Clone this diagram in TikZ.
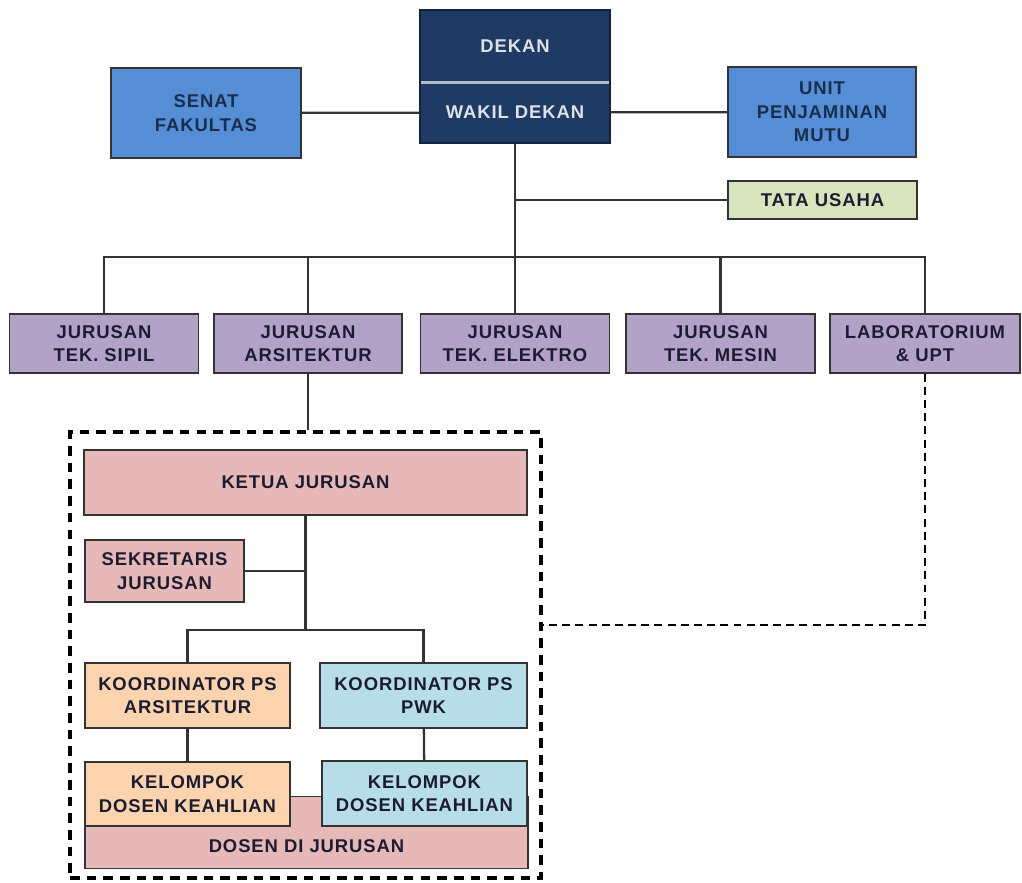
\documentclass[tikz,border=0pt]{standalone}
\usepackage{fontspec}
\setmainfont{Liberation Sans}[LetterSpace=5]
\usepackage{tikz}
\usetikzlibrary{calc}
\definecolor{navy}{HTML}{1F3A63}
\definecolor{senatblue}{HTML}{558ED5}
\definecolor{tatagreen}{HTML}{D7E4BD}
\definecolor{jurpurple}{HTML}{B3A2C7}
\definecolor{ketpink}{HTML}{E6B9B8}
\definecolor{peach}{HTML}{FBD3AE}
\definecolor{paleblue}{HTML}{B7DEE8}
\definecolor{txtdark}{HTML}{1C1C30}
\definecolor{linegray}{HTML}{333333}

\begin{document}
\begin{tikzpicture}[x=0.02cm,y=-0.02cm,
  box/.style 2 args={draw=linegray,line width=0.8pt,minimum width=#1*0.02cm,minimum height=#2*0.02cm,
    inner sep=0pt,align=center,text=txtdark,font=\bfseries\fontsize{10.5}{13.3}\selectfont},
  conn/.style={draw=linegray,line width=1.3pt},
  dashconn/.style={draw=black,line width=1.2pt,dash pattern=on 4.5pt off 3pt}]
\useasboundingbox[fill=white] (0,0) rectangle (1022,883);
% pimpinan
\node[box={190}{72},fill=navy,draw=navy!60!black,text=white!85!navy] (dekan) at (515,46) {DEKAN};
\node[box={190}{61},fill=navy,draw=navy!60!black,text=white!85!navy] (wakil) at (515,112.5) {WAKIL DEKAN};
\draw[white!65!navy,line width=2pt] ([xshift=1pt]dekan.south west) -- ([xshift=-1pt]dekan.south east);
\node[box={190}{90},fill=senatblue,text=navy!80!black] (senat) at (206,113) {SENAT\\FAKULTAS};
\node[box={188}{90},fill=senatblue,text=navy!80!black] (unit) at (822,112) {UNIT\\PENJAMINAN\\MUTU};
\node[box={189}{38},fill=tatagreen] (tata) at (822.5,200) {TATA USAHA};
\draw[conn] (senat) -- (wakil);
\draw[conn] (wakil) -- (unit);
% jurusan
\def\jy{343.5}
\node[box={189}{59},fill=jurpurple] (sipil) at (104,\jy) {JURUSAN\\TEK. SIPIL};
\node[box={188}{59},fill=jurpurple] (arsi) at (308,\jy) {JURUSAN\\ARSITEKTUR};
\node[box={189}{59},fill=jurpurple] (elektro) at (515,\jy) {JURUSAN\\TEK. ELEKTRO};
\node[box={189}{59},fill=jurpurple] (mesin) at (720.5,\jy) {JURUSAN\\TEK. MESIN};
\node[box={190}{59},fill=jurpurple] (lab) at (925,\jy) {LABORATORIUM\\\& UPT};
\coordinate (bus) at (wakil.south |- 0,257);
\draw[conn] (wakil.south) -- (bus);
\draw[conn] (wakil.south |- tata.west) -- (tata.west);
\draw[conn] (sipil.north) -- (sipil.north |- bus) -- (lab.north |- bus) -- (lab.north);
\foreach \j in {arsi,elektro,mesin}
  \draw[conn] (\j.north) -- (\j.north |- bus);
% jurusan arsitektur
\node[draw=black,line width=1.8pt,dash pattern=on 5.5pt off 4pt,minimum width=471*0.02cm,minimum height=446*0.02cm] (prodi) at (305.5,655) {};
\draw[conn] (arsi.south) -- (arsi.south |- prodi.north);
\coordinate (labend) at (prodi.east |- 0,625);
\draw[dashconn] (lab.south) |- (labend);
\node[box={443}{72},fill=ketpink,anchor=south,text height=1.13cm,text depth=0.31cm] (dosen) at (306.5,869) {DOSEN DI JURUSAN};
\node[box={443}{65},fill=ketpink] (ketua) at (305.5,482.5) {KETUA JURUSAN};
\node[box={159}{62},fill=ketpink] (sekr) at (164.5,571) {SEKRETARIS\\JURUSAN};
\node[box={205}{65},fill=peach] (koorA) at (187.5,695.5) {KOORDINATOR PS\\ARSITEKTUR};
\node[box={207}{65},fill=paleblue] (koorP) at (423.5,695.5) {KOORDINATOR PS\\PWK};
\node[box={205}{64},fill=peach] (kelA) at (187.5,794) {KELOMPOK\\DOSEN KEAHLIAN};
\node[box={205}{65},fill=paleblue] (kelP) at (424.5,793.5) {KELOMPOK\\DOSEN KEAHLIAN};
\coordinate (cab) at (ketua.south |- 0,630);
\draw[conn] (ketua.south) -- (cab);
\draw[conn] (sekr.east) -- (sekr.east -| cab);
\draw[conn] (koorA.north) |- (cab) -| (koorP.north);
\draw[conn] (koorA) -- (kelA);
\draw[conn] (koorP) -- (kelP);
\end{tikzpicture}
\end{document}
